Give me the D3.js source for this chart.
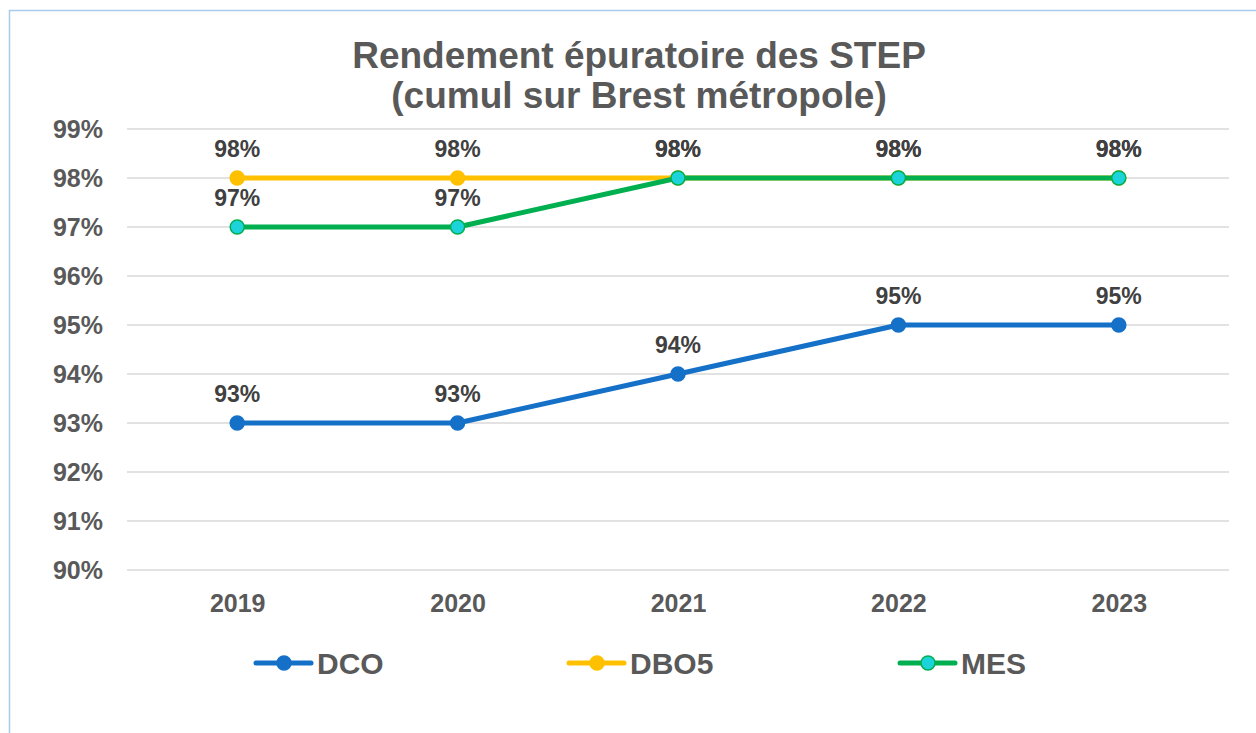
<!DOCTYPE html>
<html>
<head>
<meta charset="utf-8">
<script src="https://cdn.jsdelivr.net/npm/d3@7"></script>
<style>
  body { margin: 0; background: #fff; }
  text { font-family: "Liberation Sans", Arial, sans-serif; font-weight: bold; }
</style>
</head>
<body>
<div id="chart"></div>
<script>
// data
const years = ["2019", "2020", "2021", "2022", "2023"];
const dco  = [93, 93, 94, 95, 95];
const dbo5 = [98, 98, 98, 98, 98];
const mes  = [97, 97, 98, 98, 98];
const yTicks = [90, 91, 92, 93, 94, 95, 96, 97, 98, 99];

const series = [
  { name: "DCO",  values: dco,  line: "#1570C8", fill: "#1570C8", stroke: "#1570C8" },
  { name: "DBO5", values: dbo5, line: "#FFC000", fill: "#FFC000", stroke: "#FFC000" },
  { name: "MES",  values: mes,  line: "#00B050", fill: "#1CD3DB", stroke: "#00B050" }
];

const W = 1256, H = 733;
const margin = { top: 129, right: 27, bottom: 163, left: 127 };
const width = W - margin.left - margin.right,
      height = H - margin.top - margin.bottom;

const svg = d3.select("#chart").append("svg")
  .attr("width", W).attr("height", H);

// outer frame (goes past the right/bottom edge)
svg.append("rect")
  .attr("x", 9.5).attr("y", 10.5)
  .attr("width", W + 20).attr("height", H + 20)
  .attr("fill", "none").attr("stroke", "#A9CBEA").attr("stroke-width", 1.5);

// title
const title = svg.append("text")
  .attr("text-anchor", "middle")
  .attr("fill", "#595959")
  .attr("font-size", 37);
title.append("tspan").attr("x", 639).attr("y", 68).text("Rendement épuratoire des STEP");
title.append("tspan").attr("x", 639).attr("y", 108).text("(cumul sur Brest métropole)");

const g = svg.append("g").attr("transform", `translate(${margin.left},${margin.top})`);

const xScale = d3.scalePoint().domain(years).range([0, width]).padding(0.5);
const yScale = d3.scaleLinear().domain([90, 99]).range([height, 0]);

// grid lines
g.append("g").selectAll("line")
  .data(yTicks)
  .join("line")
  .attr("x1", 0).attr("x2", width)
  .attr("y1", d => yScale(d)).attr("y2", d => yScale(d))
  .attr("stroke", "#D9D9D9").attr("stroke-width", 1.5);

// y axis labels
const yAxis = d3.axisLeft(yScale).tickValues(yTicks).tickFormat(d => d + "%").tickSize(0).tickPadding(24);
g.append("g").call(yAxis)
  .call(s => s.select(".domain").remove())
  .selectAll("text")
  .attr("font-size", 25).attr("fill", "#595959")
  .attr("font-family", "Liberation Sans, Arial, sans-serif");

// x axis labels
const xAxis = d3.axisBottom(xScale).tickSize(0).tickPadding(24);
g.append("g").attr("transform", `translate(0,${height})`).call(xAxis)
  .call(s => s.select(".domain").remove())
  .selectAll("text")
  .attr("font-size", 25).attr("fill", "#595959")
  .attr("font-family", "Liberation Sans, Arial, sans-serif");

const line = d3.line()
  .x((d, i) => xScale(years[i]))
  .y(d => yScale(d));

// draw series, DCO first then DBO5 then MES on top
series.forEach(s => {
  g.append("path")
    .datum(s.values)
    .attr("d", line)
    .attr("fill", "none")
    .attr("stroke", s.line)
    .attr("stroke-width", 5)
    .attr("stroke-linejoin", "round");

  g.append("g").selectAll("circle")
    .data(s.values)
    .join("circle")
    .attr("cx", (d, i) => xScale(years[i]))
    .attr("cy", d => yScale(d))
    .attr("r", 7)
    .attr("fill", s.fill)
    .attr("stroke", s.stroke)
    .attr("stroke-width", 1.5);
});

// data labels
series.forEach(s => {
  g.append("g").selectAll("text")
    .data(s.values)
    .join("text")
    .attr("x", (d, i) => xScale(years[i]))
    .attr("y", d => yScale(d) - 21)
    .attr("text-anchor", "middle")
    .attr("font-size", 23)
    .attr("fill", "#404040")
    .text(d => d + "%");
});

// legend
const legendX = [256, 569, 900];
const legendY = 663;
const legend = svg.append("g");
series.forEach((s, i) => {
  const lg = legend.append("g").attr("transform", `translate(${legendX[i]},${legendY})`);
  lg.append("line")
    .attr("x1", 0).attr("x2", 55)
    .attr("stroke", s.line).attr("stroke-width", 5).attr("stroke-linecap", "round");
  lg.append("circle")
    .attr("cx", 28).attr("r", 7)
    .attr("fill", s.fill).attr("stroke", s.stroke).attr("stroke-width", 1.5);
  lg.append("text")
    .attr("x", 61).attr("y", 11)
    .attr("font-size", 30).attr("fill", "#595959")
    .text(s.name);
});
</script>
</body>
</html>
